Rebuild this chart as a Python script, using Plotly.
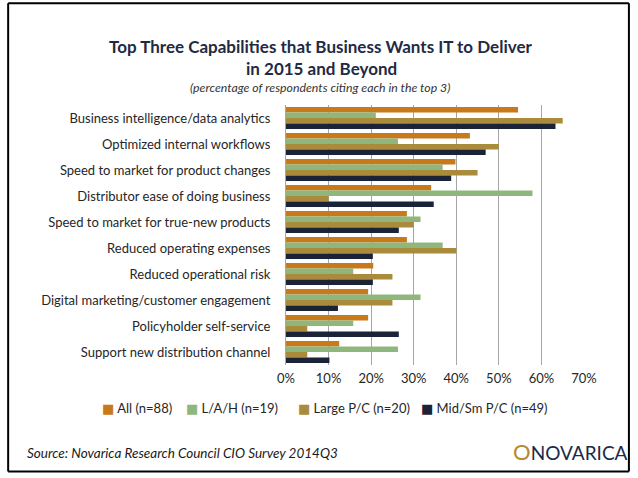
import plotly.graph_objects as go

categories = [
    "Business intelligence/data analytics",
    "Optimized internal workflows",
    "Speed to market for product changes",
    "Distributor ease of doing business",
    "Speed to market for true-new products",
    "Reduced operating expenses",
    "Reduced operational risk",
    "Digital marketing/customer engagement",
    "Policyholder self-service",
    "Support new distribution channel",
]
series_names = ["All (n=88)", "L/A/H (n=19)", "Large P/C (n=20)", "Mid/Sm P/C (n=49)"]
all_vals = [54.5, 43.2, 39.8, 34.1, 28.4, 28.4, 20.5, 19.3, 19.3, 12.5]
lah_vals = [21.1, 26.3, 36.8, 57.9, 31.6, 36.8, 15.8, 31.6, 15.8, 26.3]
large_vals = [65.0, 50.0, 45.0, 10.0, 30.0, 40.0, 25.0, 25.0, 5.0, 5.0]
mid_vals = [63.3, 46.9, 38.8, 34.7, 26.5, 20.4, 20.4, 12.2, 26.5, 10.2]
tick_vals = [0, 10, 20, 30, 40, 50, 60, 70]
tick_text = ["0%", "10%", "20%", "30%", "40%", "50%", "60%", "70%"]

colors = ["#C8791A", "#8FB77D", "#A98B3B", "#1B2339"]
FONT = "Lato"

W, H = 638, 478
L, R = 285.7, 584.3
T, B = 105.3, 365.2


def px(x):
    return (x - L) / (R - L)


def py(y):
    return (B - y) / (B - T)


fig = go.Figure()
for name, vals, col in zip(series_names, [all_vals, lah_vals, large_vals, mid_vals], colors):
    fig.add_trace(go.Bar(
        y=categories, x=vals, name=name, orientation="h",
        marker=dict(color=col, line=dict(width=0)),
        hovertemplate="%{y}<br>" + name + ": %{x:.1f}%<extra></extra>",
    ))

annotations = [
    dict(text="<b>Top Three Capabilities that Business Wants IT to Deliver</b>",
         x=px(320.5), y=py(47), font=dict(size=17, color="#1F2A44", family=FONT)),
    dict(text="<b>in 2015 and Beyond</b>",
         x=px(321), y=py(69), font=dict(size=17, color="#1F2A44", family=FONT)),
    dict(text="<i>(percentage of respondents citing each in the top 3)</i>",
         x=px(320), y=py(88), font=dict(size=12.3, color="#333333", family=FONT)),
    dict(text="<i>Source: Novarica Research Council CIO Survey 2014Q3</i>",
         x=px(24), y=py(453), xanchor="left", font=dict(size=13.5, color="#1a1a1a", family=FONT)),
    dict(text="<span style='color:#B8872E;font-size:22px'>O</span>NOVARICA",
         x=px(511), y=py(452), xanchor="left", font=dict(size=19, color="#1B2A4A", family=FONT)),
]
leg_x = [99, 183.5, 296, 419]
for name, col, lx in zip(series_names, colors, leg_x):
    annotations.append(dict(
        text=f"<span style='color:{col};font-family:DejaVu Sans;font-size:13px'>■</span> {name}",
        x=px(lx), y=py(408), xanchor="left",
        font=dict(size=13, color="#262626", family=FONT)))
for a in annotations:
    a.update(xref="paper", yref="paper", showarrow=False, yanchor=a.get("yanchor", "middle"))
    a.setdefault("xanchor", "center")

bx0, bx1, by0, by1 = px(7.3), px(629.3), py(471.7), py(3.5)
border = dict(color="black", width=2)
shapes = [
    dict(type="line", xref="paper", yref="paper", x0=bx0, x1=bx1, y0=by1, y1=by1, line=border),
    dict(type="line", xref="paper", yref="paper", x0=bx0, x1=bx1, y0=by0, y1=by0, line=border),
    dict(type="line", xref="paper", yref="paper", x0=bx0, x1=bx0, y0=by0, y1=by1, line=border),
    dict(type="line", xref="paper", yref="paper", x0=bx1, x1=bx1, y0=by0, y1=by1, line=border),
]

fig.update_layout(
    width=W, height=H,
    margin=dict(l=L, r=W - R, t=T, b=H - B, pad=0),
    paper_bgcolor="white", plot_bgcolor="white",
    barmode="group", bargap=0.15, bargroupgap=0,
    showlegend=False,
    font=dict(family=FONT, size=13, color="#262626"),
    annotations=annotations,
    shapes=shapes,
)
fig.update_xaxes(range=[0, 70], tickvals=tick_vals, ticktext=tick_text,
                 showgrid=True, gridcolor="#A6A6A6", gridwidth=1,
                 zeroline=False, showline=False, ticks="",
                 ticklabelstandoff=4, tickfont=dict(size=13, family=FONT, color="#262626"))
fig.update_yaxes(autorange="reversed", showgrid=False, showline=True,
                 linecolor="#A6A6A6", linewidth=1, ticks="",
                 ticklabelstandoff=12, tickfont=dict(size=13, family=FONT, color="#262626"))

fig.write_html("out.html", config={"displayModeBar": False},
               post_script="document.body.style.margin='0';")
